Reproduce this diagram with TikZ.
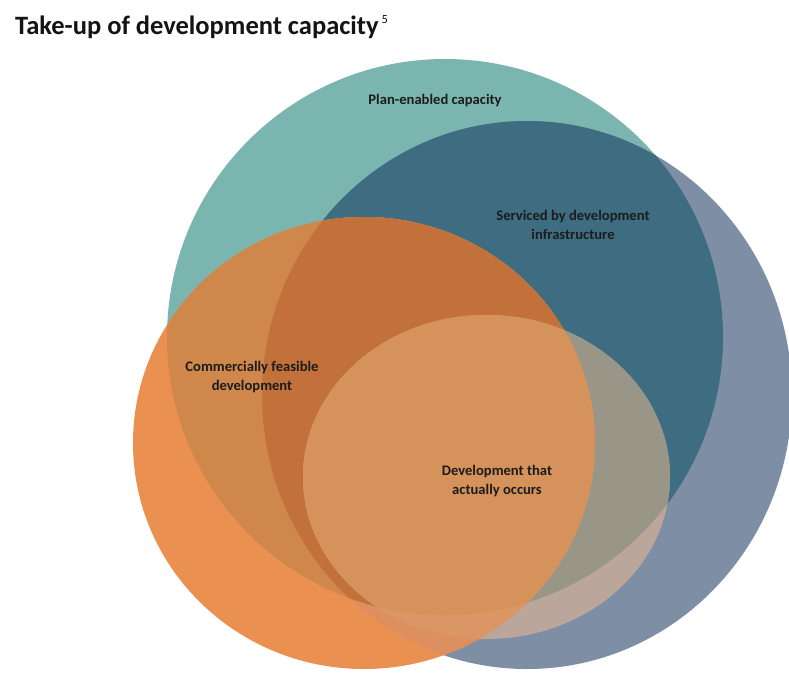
\documentclass[tikz,border=0pt]{standalone}
\usepackage{fontspec}
\setmainfont{Carlito}
\definecolor{tealA}{RGB}{122,181,176}
\definecolor{blueA}{RGB}{125,142,165}
\definecolor{tealblue}{RGB}{62,108,128}
\definecolor{orangeA}{RGB}{234,144,80}
\definecolor{orangeblue}{RGB}{222,143,95}
\definecolor{orangeteal}{RGB}{208,135,75}
\definecolor{orangetealblue}{RGB}{193,113,57}
\definecolor{lightblue}{RGB}{186,166,155}
\definecolor{lighttealblue}{RGB}{154,150,135}
\definecolor{lightorange}{RGB}{218,150,100}
\definecolor{lightorangeteal}{RGB}{213,146,90}
\definecolor{labeltext}{RGB}{28,28,28}
\tikzset{
  pT/.style={insert path={(445,337) ellipse [x radius=278pt, y radius=278pt]}},
  pB/.style={insert path={(527,395) ellipse [x radius=265pt, y radius=274pt]}},
  pO/.style={insert path={(364,443) ellipse [x radius=231pt, y radius=226pt]}},
  pL/.style={insert path={(486.5,477) ellipse [x radius=183.5pt, y radius=162pt]}},
  lbl/.style={font=\bfseries\fontsize{14.6}{19}\selectfont, text=labeltext, align=center, inner sep=0pt},
}
\begin{document}
\begin{tikzpicture}[x=1pt,y=-1pt]
\useasboundingbox (0,0) rectangle (789,673);
\fill[white] (0,0) rectangle (789,673);
\fill[tealA, pT];
\fill[blueA, pB];
\begin{scope}
  \clip[pB];
  \fill[tealblue, pT];
\end{scope}
\fill[orangeA, pO];
\begin{scope}
  \clip[pO];
  \fill[orangeblue, pB];
  \fill[orangeteal, pT];
  \clip[pT];
  \fill[orangetealblue, pB];
\end{scope}
\fill[lightblue, pL];
\begin{scope}
  \clip[pL];
  \fill[lighttealblue, pT];
  \fill[lightorange, pO];
  \clip[pO];
  \fill[lightorangeteal, pT];
\end{scope}
\node[anchor=base west, inner sep=0pt, text={rgb,255:red,20;green,20;blue,20},
      font=\bfseries\fontsize{26.5}{30}\selectfont] (title) at (15,34)
  {Take-up of development capacity\hspace{3pt}\raisebox{11pt}{\mdseries\fontsize{12.5}{14}\selectfont 5}};
\node[lbl] (plan) at (435,101) {Plan-enabled capacity};
\node[lbl] (serv) at (573,225) {Serviced by development\\infrastructure};
\node[lbl] (comm) at (252,377) {Commercially feasible\\development};
\node[lbl] (occ) at (497,481) {Development that\\actually occurs};
\end{tikzpicture}
\end{document}
